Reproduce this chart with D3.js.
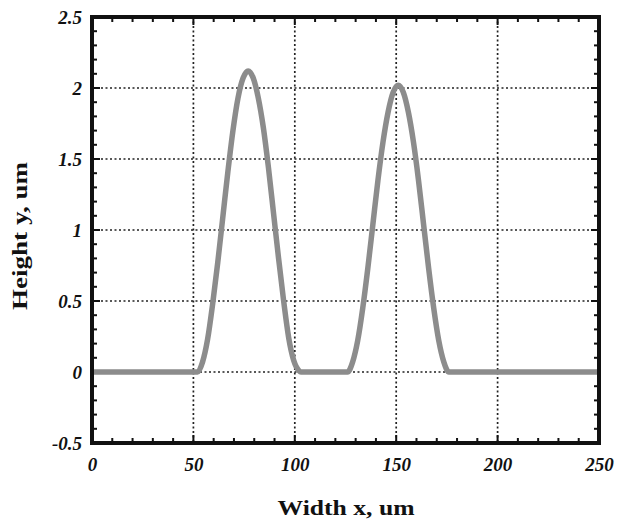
<!DOCTYPE html>
<html><head><meta charset="utf-8">
<script src="https://cdn.jsdelivr.net/npm/d3@7"></script>
<style>body{margin:0;background:#fff}</style>
</head><body>
<svg id="c" width="619" height="523"></svg>
<script>
// Data
const widthX  = [0, 25, 52, 54.5, 57, 59.5, 62, 64.5, 67, 69.5, 72, 74.5, 77, 79.5, 82, 84.5, 87, 89.5, 92, 94.5, 97, 99.5, 102, 103,
                 115, 126, 128.5, 131, 133.5, 136, 138.5, 141, 143.5, 146, 148.5, 151, 153.5, 156, 158.5, 161, 163.5, 166, 168.5, 171, 173.5, 176, 200, 250];
const heightY = [0, 0, 0, 0.07, 0.23, 0.48, 0.77, 1.09, 1.41, 1.70, 1.93, 2.07, 2.12, 2.07, 1.93, 1.72, 1.44, 1.12, 0.80, 0.50, 0.24, 0.08, 0.01, 0,
                 0, 0, 0.07, 0.22, 0.45, 0.73, 1.04, 1.35, 1.62, 1.83, 1.97, 2.02, 1.97, 1.83, 1.62, 1.35, 1.04, 0.73, 0.45, 0.22, 0.07, 0, 0, 0];
const xTicks = [0, 50, 100, 150, 200, 250];
const yTicks = [-0.5, 0, 0.5, 1, 1.5, 2, 2.5];
const xTickLabels = ["0", "50", "100", "150", "200", "250"];
const yTickLabels = ["-0.5", "0", "0.5", "1", "1.5", "2", "2.5"];
const xTitle = "Width x, um";
const yTitle = "Height y, um";

const L = 92, R = 599, T = 17, B = 443;
const svg = d3.select("#c");
const x = d3.scaleLinear().domain([0, 250]).range([L, R]);
const y = d3.scaleLinear().domain([-0.5, 2.5]).range([B, T]);
const font = "'Liberation Serif', 'Times New Roman', serif";

// grid
const g = svg.append("g");
xTicks.slice(1, -1).forEach(v => g.append("line").attr("x1", x(v)).attr("x2", x(v)).attr("y1", T).attr("y2", B)
  .attr("stroke", "#222").attr("stroke-width", 1.7).attr("stroke-dasharray", "2,2.5"));
yTicks.slice(1, -1).forEach(v => g.append("line").attr("y1", y(v)).attr("y2", y(v)).attr("x1", L).attr("x2", R)
  .attr("stroke", "#222").attr("stroke-width", 1.7).attr("stroke-dasharray", "2,2.5"));

// minor/major inward ticks
const xMinor = d3.range(0, 251, 10);
const yMinor = d3.range(-5, 26, 1).map(d => d / 10);
function tickSize(v, major) { return major.some(m => Math.abs(m - v) < 1e-6) ? 8 : 5; }
const tk = svg.append("g").attr("stroke", "#111").attr("stroke-width", 2);
xMinor.forEach(v => {
  const s = tickSize(v, xTicks);
  tk.append("line").attr("x1", x(v)).attr("x2", x(v)).attr("y1", B).attr("y2", B - s);
  tk.append("line").attr("x1", x(v)).attr("x2", x(v)).attr("y1", T).attr("y2", T + s);
});
yMinor.forEach(v => {
  const s = tickSize(v, yTicks);
  tk.append("line").attr("y1", y(v)).attr("y2", y(v)).attr("x1", L).attr("x2", L + s);
  tk.append("line").attr("y1", y(v)).attr("y2", y(v)).attr("x1", R).attr("x2", R - s);
});

// curve
svg.append("path").datum(widthX.map((d, i) => [d, heightY[i]]))
  .attr("fill", "none").attr("stroke", "#8c8c8c").attr("stroke-width", 5.5)
  .attr("stroke-linejoin", "round")
  .attr("d", d3.line().x(d => x(d[0])).y(d => y(d[1])).curve(d3.curveMonotoneX));

// frame
svg.append("rect").attr("x", L).attr("y", T).attr("width", R - L).attr("height", B - T)
  .attr("fill", "none").attr("stroke", "#111").attr("stroke-width", 4);

// tick labels
const xa = d3.axisBottom(x).tickValues(xTicks).tickFormat((d, i) => xTickLabels[i]).tickSize(0).tickPadding(15);
const gx = svg.append("g").attr("transform", `translate(0,${B})`).call(xa);
gx.select(".domain").remove();
gx.selectAll("text").attr("font-family", font).attr("font-weight", "bold").attr("font-style", "italic")
  .attr("font-size", 19).attr("fill", "#111");
const ya = d3.axisLeft(y).tickValues(yTicks).tickFormat((d, i) => yTickLabels[i]).tickSize(0).tickPadding(10);
const gy = svg.append("g").attr("transform", `translate(${L},0)`).call(ya);
gy.select(".domain").remove();
gy.selectAll("text").attr("font-family", font).attr("font-weight", "bold").attr("font-style", "italic")
  .attr("font-size", 19).attr("fill", "#111");

// titles
svg.append("text").attr("x", 346).attr("y", 515).attr("text-anchor", "middle")
  .attr("font-family", font).attr("font-weight", "bold").attr("font-size", 22).attr("fill", "#111")
  .attr("textLength", 137).attr("lengthAdjust", "spacingAndGlyphs").text(xTitle);
svg.append("text").attr("transform", `translate(27,236) rotate(-90)`).attr("text-anchor", "middle")
  .attr("font-family", font).attr("font-weight", "bold").attr("font-size", 22).attr("fill", "#111")
  .attr("textLength", 148).attr("lengthAdjust", "spacingAndGlyphs").text(yTitle);
</script>
</body></html>
